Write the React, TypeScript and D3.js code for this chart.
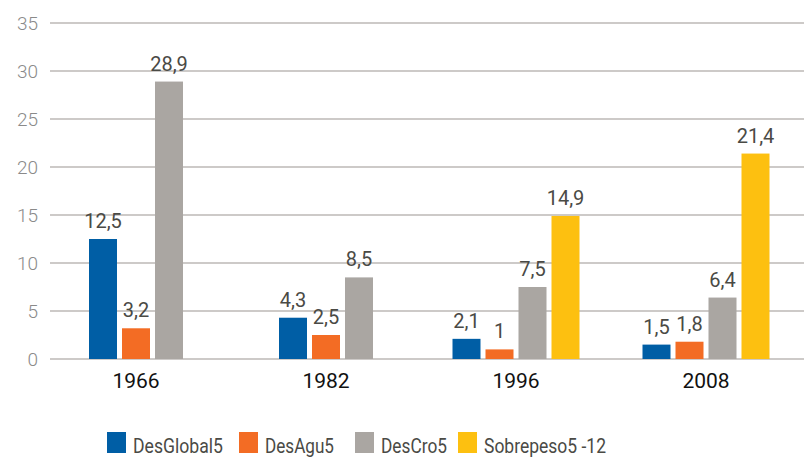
import React from "react";
import * as d3 from "d3";

const categories = ["1966", "1982", "1996", "2008"];
const seriesNames = ["DesGlobal5", "DesAgu5", "DesCro5", "Sobrepeso5 -12"];
const desGlobal5 = [12.5, 4.3, 2.1, 1.5];
const desAgu5 = [3.2, 2.5, 1, 1.8];
const desCro5 = [28.9, 8.5, 7.5, 6.4];
const sobrepeso = [null, null, 14.9, 21.4];
const yTicks = [0, 5, 10, 15, 20, 25, 30, 35];
const colors = ["#005ea5", "#f36c24", "#aaa6a2", "#fdc010"];

const W = 804;
const H = 460;

export default function App() {
  const seriesValues: (number | null)[][] = [desGlobal5, desAgu5, desCro5, sobrepeso];
  const y = d3.scaleLinear().domain([0, 35]).range([359, 23]);
  const x = d3.scaleBand<string>().domain(categories).range([41, 801]);
  const barW = 28;
  const step = 33;
  const fmt = (v: number) => String(v).replace(".", ",");
  const legendX = [107, 239, 355, 458];
  const legendW = [90, 69, 66, 122];

  return (
    <svg
      width={W}
      height={H}
      style={{ position: "absolute", left: 0, top: 0, background: "#fff" }}
      fontFamily="Roboto, 'Noto Sans', sans-serif"
    >
      {yTicks.map((t) => (
        <g key={t}>
          <line x1={50} x2={804} y1={y(t)} y2={y(t)} stroke="#bcb9b6" strokeWidth={1.5} />
          <text x={38} y={y(t) + 7} textAnchor="end" fontSize={19} fill="#8a8a8a" fontWeight={300}>
            {t}
          </text>
        </g>
      ))}
      {categories.map((c, ci) => {
        const present = seriesValues
          .map((s, si) => ({ v: s[ci], si }))
          .filter((d) => d.v !== null) as { v: number; si: number }[];
        const center = (x(c) as number) + x.bandwidth() / 2;
        const total = (present.length - 1) * step + barW;
        const start = center - total / 2;
        return (
          <g key={c}>
            {present.map((d, k) => {
              const bx = start + k * step;
              return (
                <g key={d.si}>
                  <rect x={bx} y={y(d.v)} width={barW} height={y(0) - y(d.v)} fill={colors[d.si]} />
                  <text
                    x={bx + barW / 2}
                    y={y(d.v) - 11}
                    textAnchor="middle"
                    fontSize={20}
                    fill="#4a4a45"
                  >
                    {fmt(d.v)}
                  </text>
                </g>
              );
            })}
            <text x={center} y={388} textAnchor="middle" fontSize={21} fill="#111">
              {c}
            </text>
          </g>
        );
      })}
      {seriesNames.map((n, i) => (
        <g key={n}>
          <rect x={legendX[i]} y={432} width={19} height={21} fill={colors[i]} />
          <text
            x={legendX[i] + 26}
            y={453}
            fontSize={21}
            fill="#4a4a45"
            textLength={legendW[i]}
            lengthAdjust="spacingAndGlyphs"
          >
            {n}
          </text>
        </g>
      ))}
    </svg>
  );
}
